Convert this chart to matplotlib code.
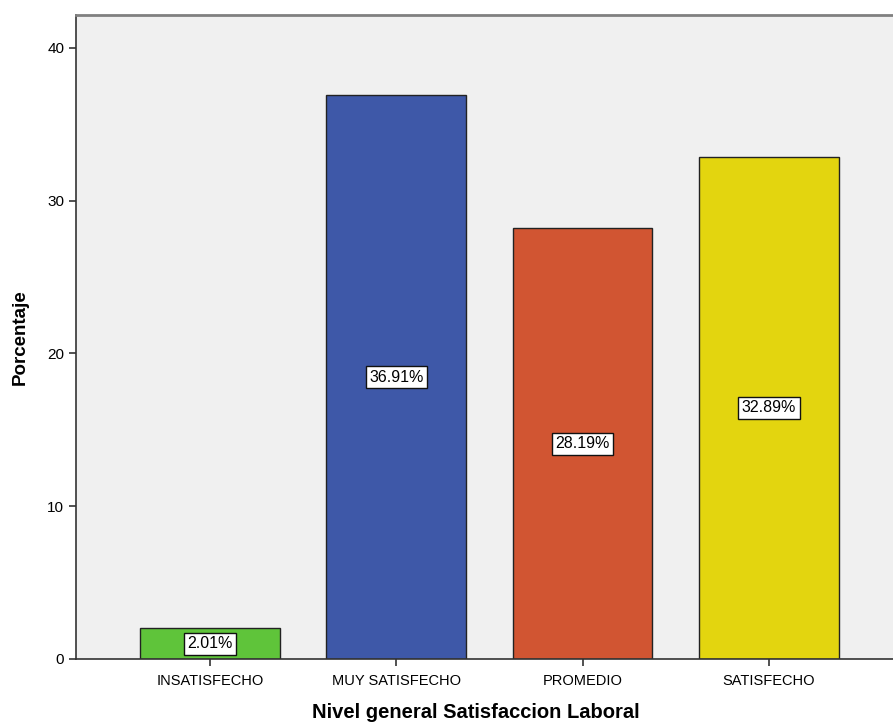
import matplotlib
matplotlib.use("Agg")
import matplotlib.pyplot as plt

categories = ["INSATISFECHO", "MUY SATISFECHO", "PROMEDIO", "SATISFECHO"]
values = [2.01, 36.91, 28.19, 32.89]
colors = ["#5fc43a", "#3e58a8", "#d15532", "#e3d50f"]
yticks = [0, 10, 20, 30, 40]

fig = plt.figure(figsize=(8.93, 7.24), dpi=100)
ax = fig.add_axes([0.0851, 0.0898, 0.926, 0.8895])
ax.set_facecolor("#f0f0f0")
x = list(range(len(categories)))
bars = ax.bar(x, values, width=0.75, color=colors, edgecolor="#222222", linewidth=1.0, zorder=2)
for xi, v in zip(x, values):
    ax.text(xi, v / 2, f"{v:.2f}%", ha="center", va="center", fontsize=11.5,
            family="Liberation Sans", zorder=3,
            bbox=dict(boxstyle="square,pad=0.22", fc="white", ec="#111111", lw=1.0))
ax.set_xlim(-0.72, 3.72)
ax.set_ylim(0, 42.16)
ax.set_yticks(yticks)
ax.set_xticks(x)
ax.set_xticklabels(categories, family="Liberation Sans", fontsize=10.5)
ax.set_yticklabels([str(t) for t in yticks], family="Liberation Sans", fontsize=11)
ax.tick_params(direction="out", length=5, width=1.2, color="#333333")
ax.tick_params(axis="x", pad=6)
for s in ["left", "bottom"]:
    ax.spines[s].set_color("#333333")
    ax.spines[s].set_linewidth(1.2)
ax.spines["top"].set_color("#808080")
ax.spines["top"].set_linewidth(2)
ax.spines["right"].set_visible(False)
ax.set_ylabel("Porcentaje", fontsize=13.5, fontweight="bold", family="Liberation Sans", labelpad=13)
ax.set_xlabel("Nivel general Satisfaccion Laboral", fontsize=14.5, fontweight="bold",
              family="Liberation Sans")
ax.xaxis.set_label_coords(0.4837, -0.069)
fig.savefig("out.png", dpi=100)
